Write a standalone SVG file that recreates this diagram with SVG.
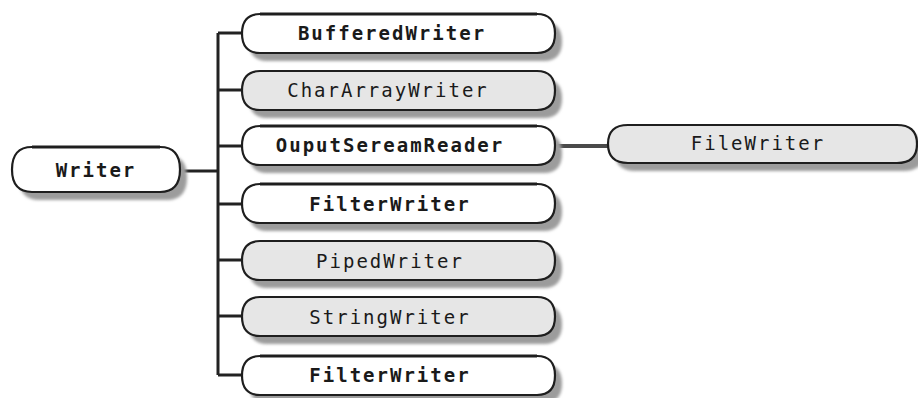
<svg xmlns="http://www.w3.org/2000/svg" width="918" height="398" viewBox="0 0 918 398">
  <defs>
    <filter id="soft" x="-10%" y="-30%" width="120%" height="160%">
      <feGaussianBlur stdDeviation="1.4"/>
    </filter>
    <!-- capsule shape, 313 x 39 -->
    <path id="cap" d="M18,0 H295 Q313,0 313,19.5 Q313,39 295,39 H18 Q0,39 0,19.5 Q0,0 18,0 Z"/>
    <path id="capL" d="M20,0 H289 Q309,0 309,19 Q309,38 289,38 H20 Q0,38 0,19 Q0,0 20,0 Z"/>
    <path id="capW" d="M20,0 H148 Q168,0 168,22.5 Q168,45 148,45 H20 Q0,45 0,22.5 Q0,0 20,0 Z"/>
  </defs>
  <style>
    .shadow { fill: #9c9c9c; filter: url(#soft); }
    .box { stroke: #1e1e1e; stroke-width: 2.2; }
    .top { fill: none; stroke: #1e1e1e; stroke-width: 3; }
    .plain { fill: #ffffff; }
    .shade { fill: #e6e6e6; }
    .label { font-family: "DejaVu Sans Mono", "Liberation Mono", monospace; font-size: 19px; letter-spacing: 2px; text-anchor: middle; fill: #1a1a1a; }
    .bold { font-weight: bold; }
    .wire { fill: none; stroke: #222222; stroke-width: 3; }
    .wire2 { fill: none; stroke: #4a4a4a; stroke-width: 4; }
  </style>

  <g id="connectors">
    <path class="wire" d="M180,171 H218"/>
    <path class="wire" d="M218,33 V375"/>
    <path class="wire" d="M218,33 H243 M218,90 H243 M218,146 H243 M218,204 H243 M218,260 H243 M218,316 H243 M218,375 H243"/>
    <path class="wire2" d="M555,146 H609"/>
  </g>

  <g id="writer" transform="translate(12,147)">
    <use href="#capW" class="shadow" transform="translate(7,8)"/>
    <use href="#capW" class="box plain"/>
    <path class="top" d="M20,0 H148"/>
    <text class="label bold" x="84" y="30">Writer</text>
  </g>

  <g id="buffered-writer" transform="translate(242,14)">
    <use href="#cap" class="shadow" transform="translate(7,8)"/>
    <use href="#cap" class="box plain"/>
    <path class="top" d="M18,0 H295"/>
    <text class="label bold" x="150" y="26">BufferedWriter</text>
  </g>

  <g id="char-array-writer" transform="translate(242,71)">
    <use href="#cap" class="shadow" transform="translate(7,8)"/>
    <use href="#cap" class="box shade"/>
    <text class="label" x="146" y="26">CharArrayWriter</text>
  </g>

  <g id="output-stream-reader" transform="translate(242,126)">
    <use href="#cap" class="shadow" transform="translate(7,8)"/>
    <use href="#cap" class="box plain"/>
    <path class="top" d="M18,0 H295"/>
    <text class="label bold" x="148" y="26">OuputSereamReader</text>
  </g>

  <g id="filter-writer-1" transform="translate(242,184)">
    <use href="#cap" class="shadow" transform="translate(7,8)"/>
    <use href="#cap" class="box plain"/>
    <path class="top" d="M18,0 H295"/>
    <text class="label bold" x="148" y="27">FilterWriter</text>
  </g>

  <g id="piped-writer" transform="translate(242,241)">
    <use href="#cap" class="shadow" transform="translate(7,8)"/>
    <use href="#cap" class="box shade"/>
    <text class="label" x="148" y="27">PipedWriter</text>
  </g>

  <g id="string-writer" transform="translate(242,297)">
    <use href="#cap" class="shadow" transform="translate(7,8)"/>
    <use href="#cap" class="box shade"/>
    <text class="label" x="148" y="27">StringWriter</text>
  </g>

  <g id="filter-writer-2" transform="translate(242,356)">
    <use href="#cap" class="shadow" transform="translate(7,8)"/>
    <use href="#cap" class="box plain"/>
    <path class="top" d="M18,0 H295"/>
    <text class="label bold" x="148" y="26">FilterWriter</text>
  </g>

  <g id="file-writer" transform="translate(608,125)">
    <use href="#capL" class="shadow" transform="translate(7,8)"/>
    <use href="#capL" class="box shade"/>
    <text class="label" x="150" y="25">FileWriter</text>
  </g>
</svg>
